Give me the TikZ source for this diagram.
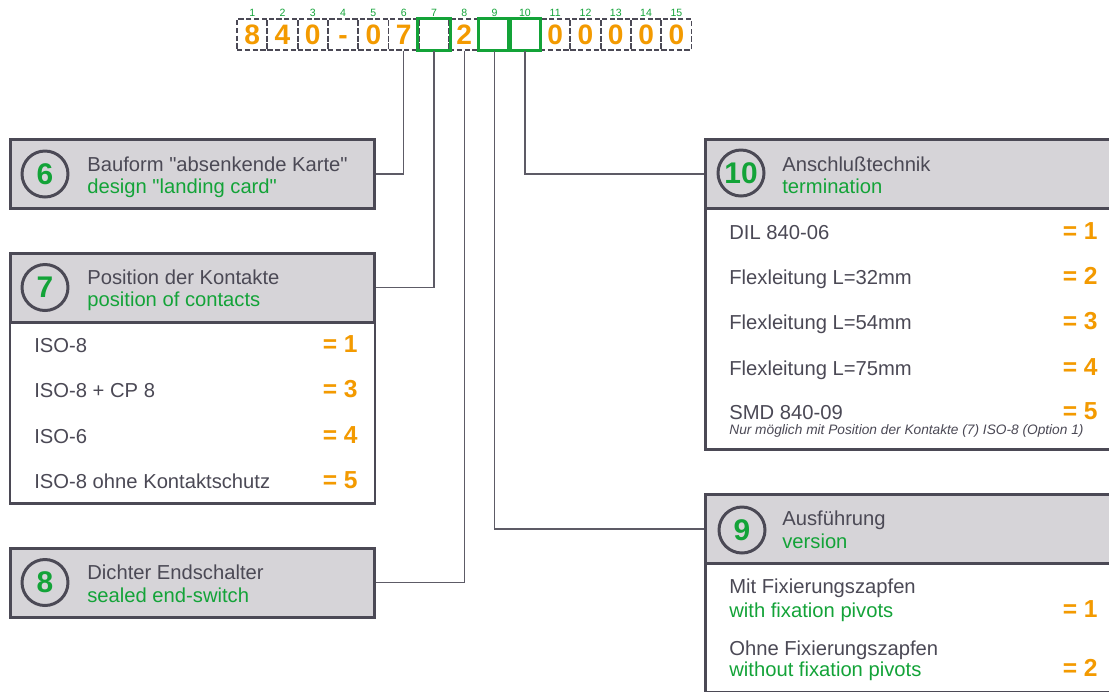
\documentclass[tikz,border=0pt]{standalone}
\usepackage{fontspec}
\setmainfont{Liberation Sans}[Ligatures=TeXOff]
\usetikzlibrary{positioning}
\definecolor{dgray}{HTML}{4B4955}
\definecolor{hgray}{HTML}{D6D4D8}
\definecolor{tgreen}{HTML}{13A338}
\definecolor{torange}{HTML}{F39A00}
\tikzset{
	cell/.style={draw=dgray, dash pattern=on 3pt off 1.4pt, line width=1pt, minimum width=0.606cm, minimum height=0.62cm, inner sep=0, text height=11.5pt, text depth=0pt, text=torange, font=\fontsize{16}{16}\selectfont\bfseries},
	sel/.style={draw=tgreen, line width=1.7pt},
	numlab/.style={text=tgreen, font=\fontsize{6}{6}\selectfont, inner sep=0},
	head/.style={draw=dgray, fill=hgray, line width=1.7pt, inner sep=0, minimum height=1.38cm},
	body/.style={draw=dgray, fill=white, line width=1.7pt},
	circ/.style={circle, draw=dgray, line width=1.7pt, minimum size=0.92cm, inner sep=0, text=tgreen, font=\fontsize{17}{17}\selectfont\bfseries},
	ttl/.style={anchor=base west, inner sep=0, text=dgray, font=\fontsize{11.5}{13}\selectfont},
	sub/.style={ttl, text=tgreen},
	val/.style={anchor=base east, inner sep=0, text=torange, font=\fontsize{14}{14}\selectfont\bfseries},
	note/.style={anchor=base west, inner sep=0, text=dgray, font=\fontsize{7.8}{8}\selectfont\itshape},
	conn/.style={draw=dgray!90, line width=0.9pt},
}

\begin{document}
\begin{tikzpicture}[x=0.02cm,y=-0.02cm]
	\useasboundingbox (0,0) rectangle (1109,691);
	\clip (0,0) rectangle (1109,691);
	%Cases
	\foreach \d [count=\i] in {8,4,0,-,0,7,{},2,{},{},0,0,0,0,0} {
		\node[cell] (c\i) at ({252.2+(\i-1)*30.3},34.5) {\d};
		\node[numlab] (n\i) at ({252.2+(\i-1)*30.3},13) {\i};
	}
	\draw[sel] (c7.south west) rectangle (c7.north east);
	\draw[sel] (c9.south west) rectangle (c9.north east);
	\draw[sel] (c10.south west) rectangle (c10.north east);

	%Boites gauche
	\node[head, minimum width=7.3cm] (h6) at (192.5,174) {};
	\node[circ] (k6) at (45,174) {6};
	\node[ttl] (t6) at (87,171) {Bauform "absenkende Karte"};
	\node[sub] (s6) at (87,193) {design "landing card"};

	\draw[body] (10,322) rectangle (375,503);
	\node[head, minimum width=7.3cm] (h7) at (192.5,287.5) {};
	\node[circ] (k7) at (45,287.5) {7};
	\node[ttl] (t7) at (87,284) {Position der Kontakte};
	\node[sub] (s7) at (87,306) {position of contacts};
	\foreach \t/\v/\y in {ISO-8/1/352, ISO-8 + CP 8/3/397, ISO-6/4/443, ISO-8 ohne Kontaktschutz/5/488} {
		\node[ttl] (i7\v) at (34,\y) {\t};
		\node[val] (v7\v) at (358,\y) {= \v};
	}

	\node[head, minimum width=7.3cm] (h8) at (192.5,582.5) {};
	\node[circ] (k8) at (45,582.5) {8};
	\node[ttl] (t8) at (87,579) {Dichter Endschalter};
	\node[sub] (s8) at (87,602) {sealed end-switch};

	%Boites droite
	\draw[body] (705,208) rectangle (1130,449);
	\node[head, minimum width=8.5cm] (h10) at (917.5,174) {};
	\node[circ] (k10) at (741,173) {10};
	\node[ttl] (t10) at (782,171) {Anschlußtechnik};
	\node[sub] (s10) at (782,193) {termination};
	\foreach \t/\v/\y in {DIL 840-06/1/239, Flexleitung L=32mm/2/284, Flexleitung L=54mm/3/329, Flexleitung L=75mm/4/375, SMD 840-09/5/419} {
		\node[ttl] (i10\v) at (729,\y) {\t};
		\node[val] (v10\v) at (1098,\y) {= \v};
	}
	\node[note] (nb10) at (729,434) {Nur möglich mit Position der Kontakte (7) ISO-8 (Option 1)};

	\draw[body] (705,563) rectangle (1130,692);
	\node[head, minimum width=8.5cm] (h9) at (917.5,529) {};
	\node[circ] (k9) at (742,530) {9};
	\node[ttl] (t9) at (782,525) {Ausführung};
	\node[sub] (s9) at (782,548) {version};
	\node[ttl] (i91) at (729,593) {Mit Fixierungszapfen};
	\node[sub] (e91) at (729,617) {with fixation pivots};
	\node[val] (v91) at (1098,617) {= 1};
	\node[ttl] (i92) at (729,655) {Ohne Fixierungszapfen};
	\node[sub] (e92) at (729,676) {without fixation pivots};
	\node[val] (v92) at (1098,676) {= 2};

	%Liens
	\draw[conn] (c6.south) |- (h6.east);
	\draw[conn] (c7.south) |- (h7.east);
	\draw[conn] (c8.south) |- (h8.east);
	\draw[conn] (c9.south) |- (h9.west);
	\draw[conn] (c10.south) |- (h10.west);
\end{tikzpicture}
\end{document}
